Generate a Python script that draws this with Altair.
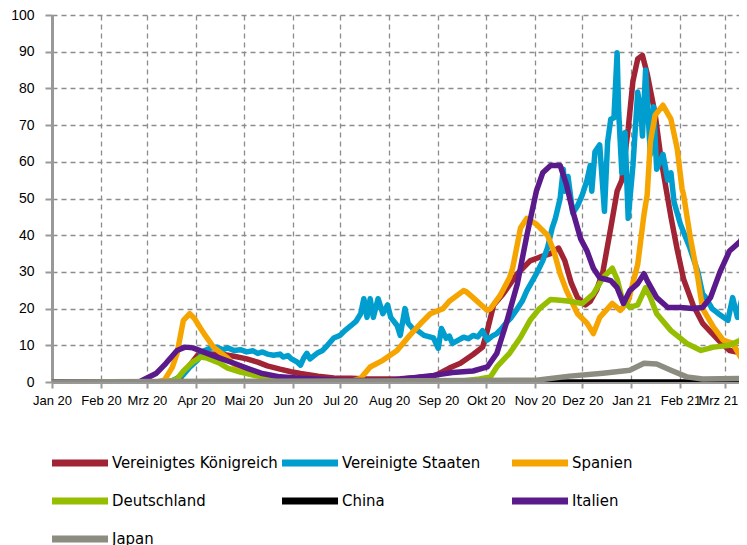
import altair as alt
import pandas as pd

COUNTRIES = ["Vereinigtes Königreich", "Vereinigte Staaten", "Spanien",
             "Deutschland", "China", "Italien", "Japan"]
COLORS = ["#A02434", "#009ECE", "#F5A400", "#96BE00", "#000000", "#5A1A8C", "#8C8C80"]
MONTHS_DE = ["Jan", "Feb", "Mrz", "Apr", "Mai", "Jun", "Jul", "Aug", "Sep", "Okt", "Nov", "Dez"]

UK_DATES = ["2020-01-01", "2020-03-15", "2020-03-22", "2020-03-28", "2020-04-02", "2020-04-10",
            "2020-04-18", "2020-04-25", "2020-05-03", "2020-05-10", "2020-05-16", "2020-05-24",
            "2020-05-31", "2020-06-06", "2020-06-17", "2020-06-27", "2020-07-08", "2020-07-18",
            "2020-08-08", "2020-08-19", "2020-08-29", "2020-09-02", "2020-09-08", "2020-09-15",
            "2020-09-23", "2020-09-29", "2020-10-02", "2020-10-06", "2020-10-12", "2020-10-21",
            "2020-10-29", "2020-11-04", "2020-11-11", "2020-11-16", "2020-11-20", "2020-11-24",
            "2020-11-28", "2020-12-03", "2020-12-06", "2020-12-10", "2020-12-14", "2020-12-19",
            "2020-12-23", "2020-12-26", "2020-12-30", "2021-01-02", "2021-01-05", "2021-01-08",
            "2021-01-11", "2021-01-16", "2021-01-20", "2021-01-26", "2021-01-30", "2021-02-03",
            "2021-02-09", "2021-02-15", "2021-02-25", "2021-03-04", "2021-03-11", "2021-03-15"]
UK_VALUES = [0, 0.1, 1.0, 4.5, 7.3, 7.6,
             7.5, 7.0, 6.3, 5.4, 4.4, 3.5,
             2.8, 2.3, 1.6, 1.1, 1.0, 0.8,
             0.9, 1.2, 1.6, 2.4, 3.8, 5.1,
             7.5, 9.5, 14, 21, 24, 29.5,
             33, 34, 35, 36.5, 33, 27,
             23, 21, 22, 25, 30, 42,
             52, 55, 69, 82, 88, 89,
             84, 73, 60, 45, 36, 28,
             21, 16, 11.4, 8.6, 8, 9]

US_DATES = ["2020-01-01", "2020-03-10", "2020-03-17", "2020-03-24", "2020-03-28", "2020-04-02",
            "2020-04-06", "2020-04-10", "2020-04-14", "2020-04-18", "2020-04-21", "2020-04-25",
            "2020-04-29", "2020-05-03", "2020-05-07", "2020-05-10", "2020-05-13", "2020-05-16",
            "2020-05-20", "2020-05-24", "2020-05-26", "2020-05-29", "2020-05-31", "2020-06-04",
            "2020-06-06", "2020-06-08", "2020-06-10", "2020-06-12", "2020-06-14", "2020-06-17",
            "2020-06-20", "2020-06-23", "2020-06-27", "2020-07-01", "2020-07-04", "2020-07-08",
            "2020-07-11", "2020-07-14", "2020-07-16", "2020-07-18", "2020-07-20", "2020-07-22",
            "2020-07-25", "2020-07-28", "2020-07-31", "2020-08-02", "2020-08-06", "2020-08-08",
            "2020-08-11", "2020-08-13", "2020-08-16", "2020-08-19", "2020-08-23", "2020-08-29",
            "2020-09-01", "2020-09-03", "2020-09-06", "2020-09-08", "2020-09-10", "2020-09-14",
            "2020-09-17", "2020-09-20", "2020-09-23", "2020-09-26", "2020-09-29", "2020-10-02",
            "2020-10-05", "2020-10-08", "2020-10-11", "2020-10-14", "2020-10-17", "2020-10-21",
            "2020-10-24", "2020-10-27", "2020-11-02", "2020-11-06", "2020-11-09", "2020-11-12",
            "2020-11-14", "2020-11-17", "2020-11-19", "2020-11-20", "2020-11-22", "2020-11-25",
            "2020-11-28", "2020-12-01", "2020-12-04", "2020-12-06", "2020-12-07", "2020-12-09",
            "2020-12-12", "2020-12-15", "2020-12-17", "2020-12-19", "2020-12-21", "2020-12-23",
            "2020-12-24", "2020-12-26", "2020-12-28", "2020-12-30", "2021-01-02", "2021-01-05",
            "2021-01-07", "2021-01-08", "2021-01-10", "2021-01-13", "2021-01-15", "2021-01-17",
            "2021-01-19", "2021-01-21", "2021-01-24", "2021-01-26", "2021-01-28", "2021-02-01",
            "2021-02-07", "2021-02-12", "2021-02-15", "2021-02-17", "2021-02-21", "2021-02-25",
            "2021-03-03", "2021-03-06", "2021-03-09", "2021-03-12", "2021-03-15"]
US_VALUES = [0, 0, 0.3, 2, 4, 6,
             8.5, 9.2, 9.5, 8.8, 9.3, 8.6,
             8.8, 8.2, 8.5, 7.8, 8.2, 7.6,
             7.3, 7.6, 6.8, 7.2, 6.4, 5.4,
             4.6, 6.5, 7.8, 6.3, 7.0, 8.0,
             8.6, 10, 12, 12.7, 14, 15.4,
             16.5, 18.6, 22.7, 17.6, 22.7, 17.6,
             22.7, 18.6, 21, 17.6, 15.4, 12.7,
             20, 16, 14.5, 14, 12.7, 12,
             9.2, 14.6, 11.9, 12.5, 10.5, 11.5,
             12.2, 11.8, 12.7, 12.3, 14, 11.4,
             12.5, 13.2, 14.5, 16.2, 17.5, 20,
             22, 24.9, 29.5, 33, 36.5, 42,
             44.6, 50, 58, 52, 56, 46,
             48, 51, 55, 59, 52, 62.7,
             64.6, 46.5, 65.4, 71.6, 72, 89.7,
             73.5, 57, 68, 44.6, 59, 79,
             73.5, 67, 85, 62, 75, 58,
             60, 62, 55, 57, 49, 43,
             36.5, 30, 24, 23, 20, 18.6,
             16.8, 23, 17.6, 23, 16]

ES_DATES = ["2020-01-01", "2020-03-07", "2020-03-12", "2020-03-17", "2020-03-20", "2020-03-24",
            "2020-03-28", "2020-03-31", "2020-04-04", "2020-04-06", "2020-04-12", "2020-04-21",
            "2020-04-29", "2020-05-10", "2020-05-31", "2020-06-20", "2020-07-09", "2020-07-14",
            "2020-07-20", "2020-07-28", "2020-08-06", "2020-08-14", "2020-08-21", "2020-08-27",
            "2020-09-04", "2020-09-08", "2020-09-17", "2020-09-19", "2020-09-23", "2020-10-02",
            "2020-10-04", "2020-10-10", "2020-10-16", "2020-10-18", "2020-10-23", "2020-10-27",
            "2020-11-02", "2020-11-09", "2020-11-13", "2020-11-17", "2020-11-21", "2020-11-28",
            "2020-12-04", "2020-12-08", "2020-12-12", "2020-12-20", "2020-12-25", "2020-12-30",
            "2021-01-05", "2021-01-09", "2021-01-11", "2021-01-13", "2021-01-16", "2021-01-21",
            "2021-01-26", "2021-01-30", "2021-02-02", "2021-02-03", "2021-02-07", "2021-02-12",
            "2021-02-15", "2021-02-22", "2021-02-28", "2021-03-06", "2021-03-11", "2021-03-15"]
ES_VALUES = [0, 0, 0.5, 4, 7.8, 16.8,
             18.6, 17.3, 14.5, 13.2, 9.5, 6.5,
             3.2, 1.9, 0.8, 0.2, 0.3, 1.0,
             4.1, 5.9, 8.6, 12.7, 16, 18.6,
             20, 22, 24.9, 24.5, 23, 19.5,
             20, 23.5, 28.4, 31, 42, 44.6,
             43, 40, 35.7, 29.5, 24.9, 18.6,
             16, 13.2, 17.6, 21.4, 19.5, 22,
             32, 45.7, 51, 65.4, 72.7, 75.4,
             71.6, 63.5, 52.7, 51, 40, 28.4,
             20, 14.9, 11.4, 10.5, 6.8, 4.1]

DE_DATES = ["2020-01-01", "2020-03-14", "2020-03-20", "2020-03-24", "2020-03-30", "2020-04-04",
            "2020-04-08", "2020-04-16", "2020-04-21", "2020-04-29", "2020-05-07", "2020-05-20",
            "2020-06-10", "2020-07-08", "2020-08-19", "2020-09-15", "2020-09-27", "2020-10-04",
            "2020-10-08", "2020-10-16", "2020-10-23", "2020-10-29", "2020-11-04", "2020-11-11",
            "2020-11-17", "2020-11-23", "2020-12-01", "2020-12-08", "2020-12-14", "2020-12-20",
            "2020-12-23", "2020-12-26", "2020-12-31", "2021-01-05", "2021-01-10", "2021-01-13",
            "2021-01-17", "2021-01-26", "2021-02-05", "2021-02-14", "2021-02-22", "2021-03-04",
            "2021-03-11", "2021-03-15"]
DE_VALUES = [0, 0, 0.8, 3, 5.5, 6.8,
             6.5, 5.1, 3.8, 2.7, 1.9, 0.8,
             0.3, 0.1, 0.1, 0.2, 0.8, 1.4,
             4.1, 7.8, 12.2, 16.8, 20, 22.5,
             22.3, 22, 21.4, 24, 28.4, 31,
             28, 23, 20.3, 21, 25.7, 23,
             18.6, 14, 10.5, 8.6, 9.5, 10,
             11.4, 16]

CN_DATES = ["2020-01-01", "2020-02-10", "2020-03-01", "2021-03-15"]
CN_VALUES = [0, 0.1, 0, 0]

IT_DATES = ["2020-01-01", "2020-02-25", "2020-03-07", "2020-03-13", "2020-03-20", "2020-03-25",
            "2020-03-30", "2020-04-08", "2020-04-16", "2020-04-25", "2020-05-03", "2020-05-12",
            "2020-05-24", "2020-06-06", "2020-07-01", "2020-08-01", "2020-08-29", "2020-09-10",
            "2020-09-23", "2020-10-02", "2020-10-08", "2020-10-14", "2020-10-21", "2020-10-27",
            "2020-11-02", "2020-11-06", "2020-11-11", "2020-11-17", "2020-11-21", "2020-11-25",
            "2020-11-30", "2020-12-04", "2020-12-08", "2020-12-12", "2020-12-19", "2020-12-23",
            "2020-12-27", "2020-12-31", "2021-01-05", "2021-01-09", "2021-01-11", "2021-01-17",
            "2021-01-24", "2021-02-01", "2021-02-09", "2021-02-15", "2021-02-20", "2021-02-26",
            "2021-03-04", "2021-03-11", "2021-03-15"]
IT_VALUES = [0, 0, 2.4, 5.1, 8.6, 9.5,
             9.3, 7.8, 6.5, 5.1, 3.8, 2.4,
             1.4, 1.0, 0.5, 0.4, 1.8, 2.6,
             3.0, 4.1, 7.8, 16, 26.8, 40,
             52, 57, 59, 59, 53.8, 46.5,
             39, 35.7, 31, 28.4, 27.6, 25.7,
             21.4, 24.9, 26.8, 29.5, 27.6, 23,
             20.3, 20.3, 20, 20.3, 23, 30,
             35.7, 38.4, 43]

JP_DATES = ["2020-01-01", "2020-04-15", "2020-07-25", "2020-11-02", "2020-11-23", "2020-12-14",
            "2020-12-31", "2021-01-09", "2021-01-17", "2021-01-26", "2021-02-05", "2021-02-15",
            "2021-03-15"]
JP_VALUES = [0, 0.2, 0.3, 0.5, 1.6, 2.4,
             3.2, 5.1, 4.9, 3.2, 1.4, 0.8,
             1.0]

SERIES = [(UK_DATES, UK_VALUES), (US_DATES, US_VALUES), (ES_DATES, ES_VALUES),
          (DE_DATES, DE_VALUES), (CN_DATES, CN_VALUES), (IT_DATES, IT_VALUES),
          (JP_DATES, JP_VALUES)]

rows = []
for name, (dates, values) in zip(COUNTRIES, SERIES):
    for d, v in zip(dates, values):
        rows.append({"country": name, "date": d, "value": v})
df = pd.DataFrame(rows)

TICK_DATES = [alt.DateTime(year=2020 + (m // 12), month=(m % 12) + 1, date=1, utc=True)
              for m in range(0, 15)]

FONT_AX = "Liberation Sans"
FONT_LEG = "Liberation Sans Narrow, DejaVu Sans Condensed, sans-serif"

label_expr = ("['" + "','".join(MONTHS_DE) + "'][utcmonth(datum.value)] + ' ' + "
              "utcFormat(datum.value, '%y')")
last_label_test = "utcyear(datum.value) == 2021 && utcmonth(datum.value) == 2"

# legend symbol: a horizontal bar drawn as a custom path (unit = sqrt(size)/2)
LEGEND_SYMBOL = "M-1.41,0H5.18"

chart = alt.Chart(df).mark_line(
    strokeWidth=5.5, strokeJoin="round", strokeCap="round", clip=True
).encode(
    x=alt.X("date:T",
            scale=alt.Scale(type="utc",
                            domain=[alt.DateTime(year=2020, month=1, date=1, utc=True),
                                    alt.DateTime(year=2021, month=3, date=10, utc=True)]),
            axis=alt.Axis(values=TICK_DATES, labelExpr=label_expr, title=None,
                          labelFont=FONT_AX, labelFontSize=13, labelColor="#000000",
                          labelPadding=6, tickSize=6, tickWidth=2, tickColor="#999999",
                          labelOffset={"condition": {"test": last_label_test, "value": -7},
                                       "value": 0},
                          domainColor="#999999", domainWidth=3,
                          grid=True, gridDash=[5, 4], gridColor="#8c8c8c", gridWidth=1.3,
                          labelFlush=False, labelOverlap=False)),
    y=alt.Y("value:Q",
            scale=alt.Scale(domain=[0, 100], nice=False),
            axis=alt.Axis(values=list(range(0, 101, 10)), title=None,
                          labelFont=FONT_AX, labelFontSize=14, labelColor="#000000",
                          labelPadding=11, tickSize=7, tickWidth=2, tickColor="#999999",
                          domainColor="#999999", domainWidth=3,
                          grid=True, gridDash=[5, 4], gridColor="#8c8c8c", gridWidth=1.3)),
    color=alt.Color("country:N",
                    scale=alt.Scale(domain=COUNTRIES, range=COLORS),
                    legend=alt.Legend(title=None, orient="none", legendX=0, legendY=436,
                                      direction="horizontal", columns=3, gridAlign="all",
                                      symbolType=LEGEND_SYMBOL, symbolSize=289,
                                      symbolStrokeWidth=7, columnPadding=-10, rowPadding=10,
                                      labelFont=FONT_LEG, labelFontSize=16.6,
                                      labelColor="#000000", labelOffset=36, labelLimit=400)),
).properties(
    width=687, height=367,
    autosize=alt.AutoSizeParams(type="none"),
    padding={"left": 44, "top": 7, "right": 0, "bottom": 175},
).configure_view(stroke="transparent")

chart.save("out.html", embed_options={"renderer": "svg", "actions": False})
